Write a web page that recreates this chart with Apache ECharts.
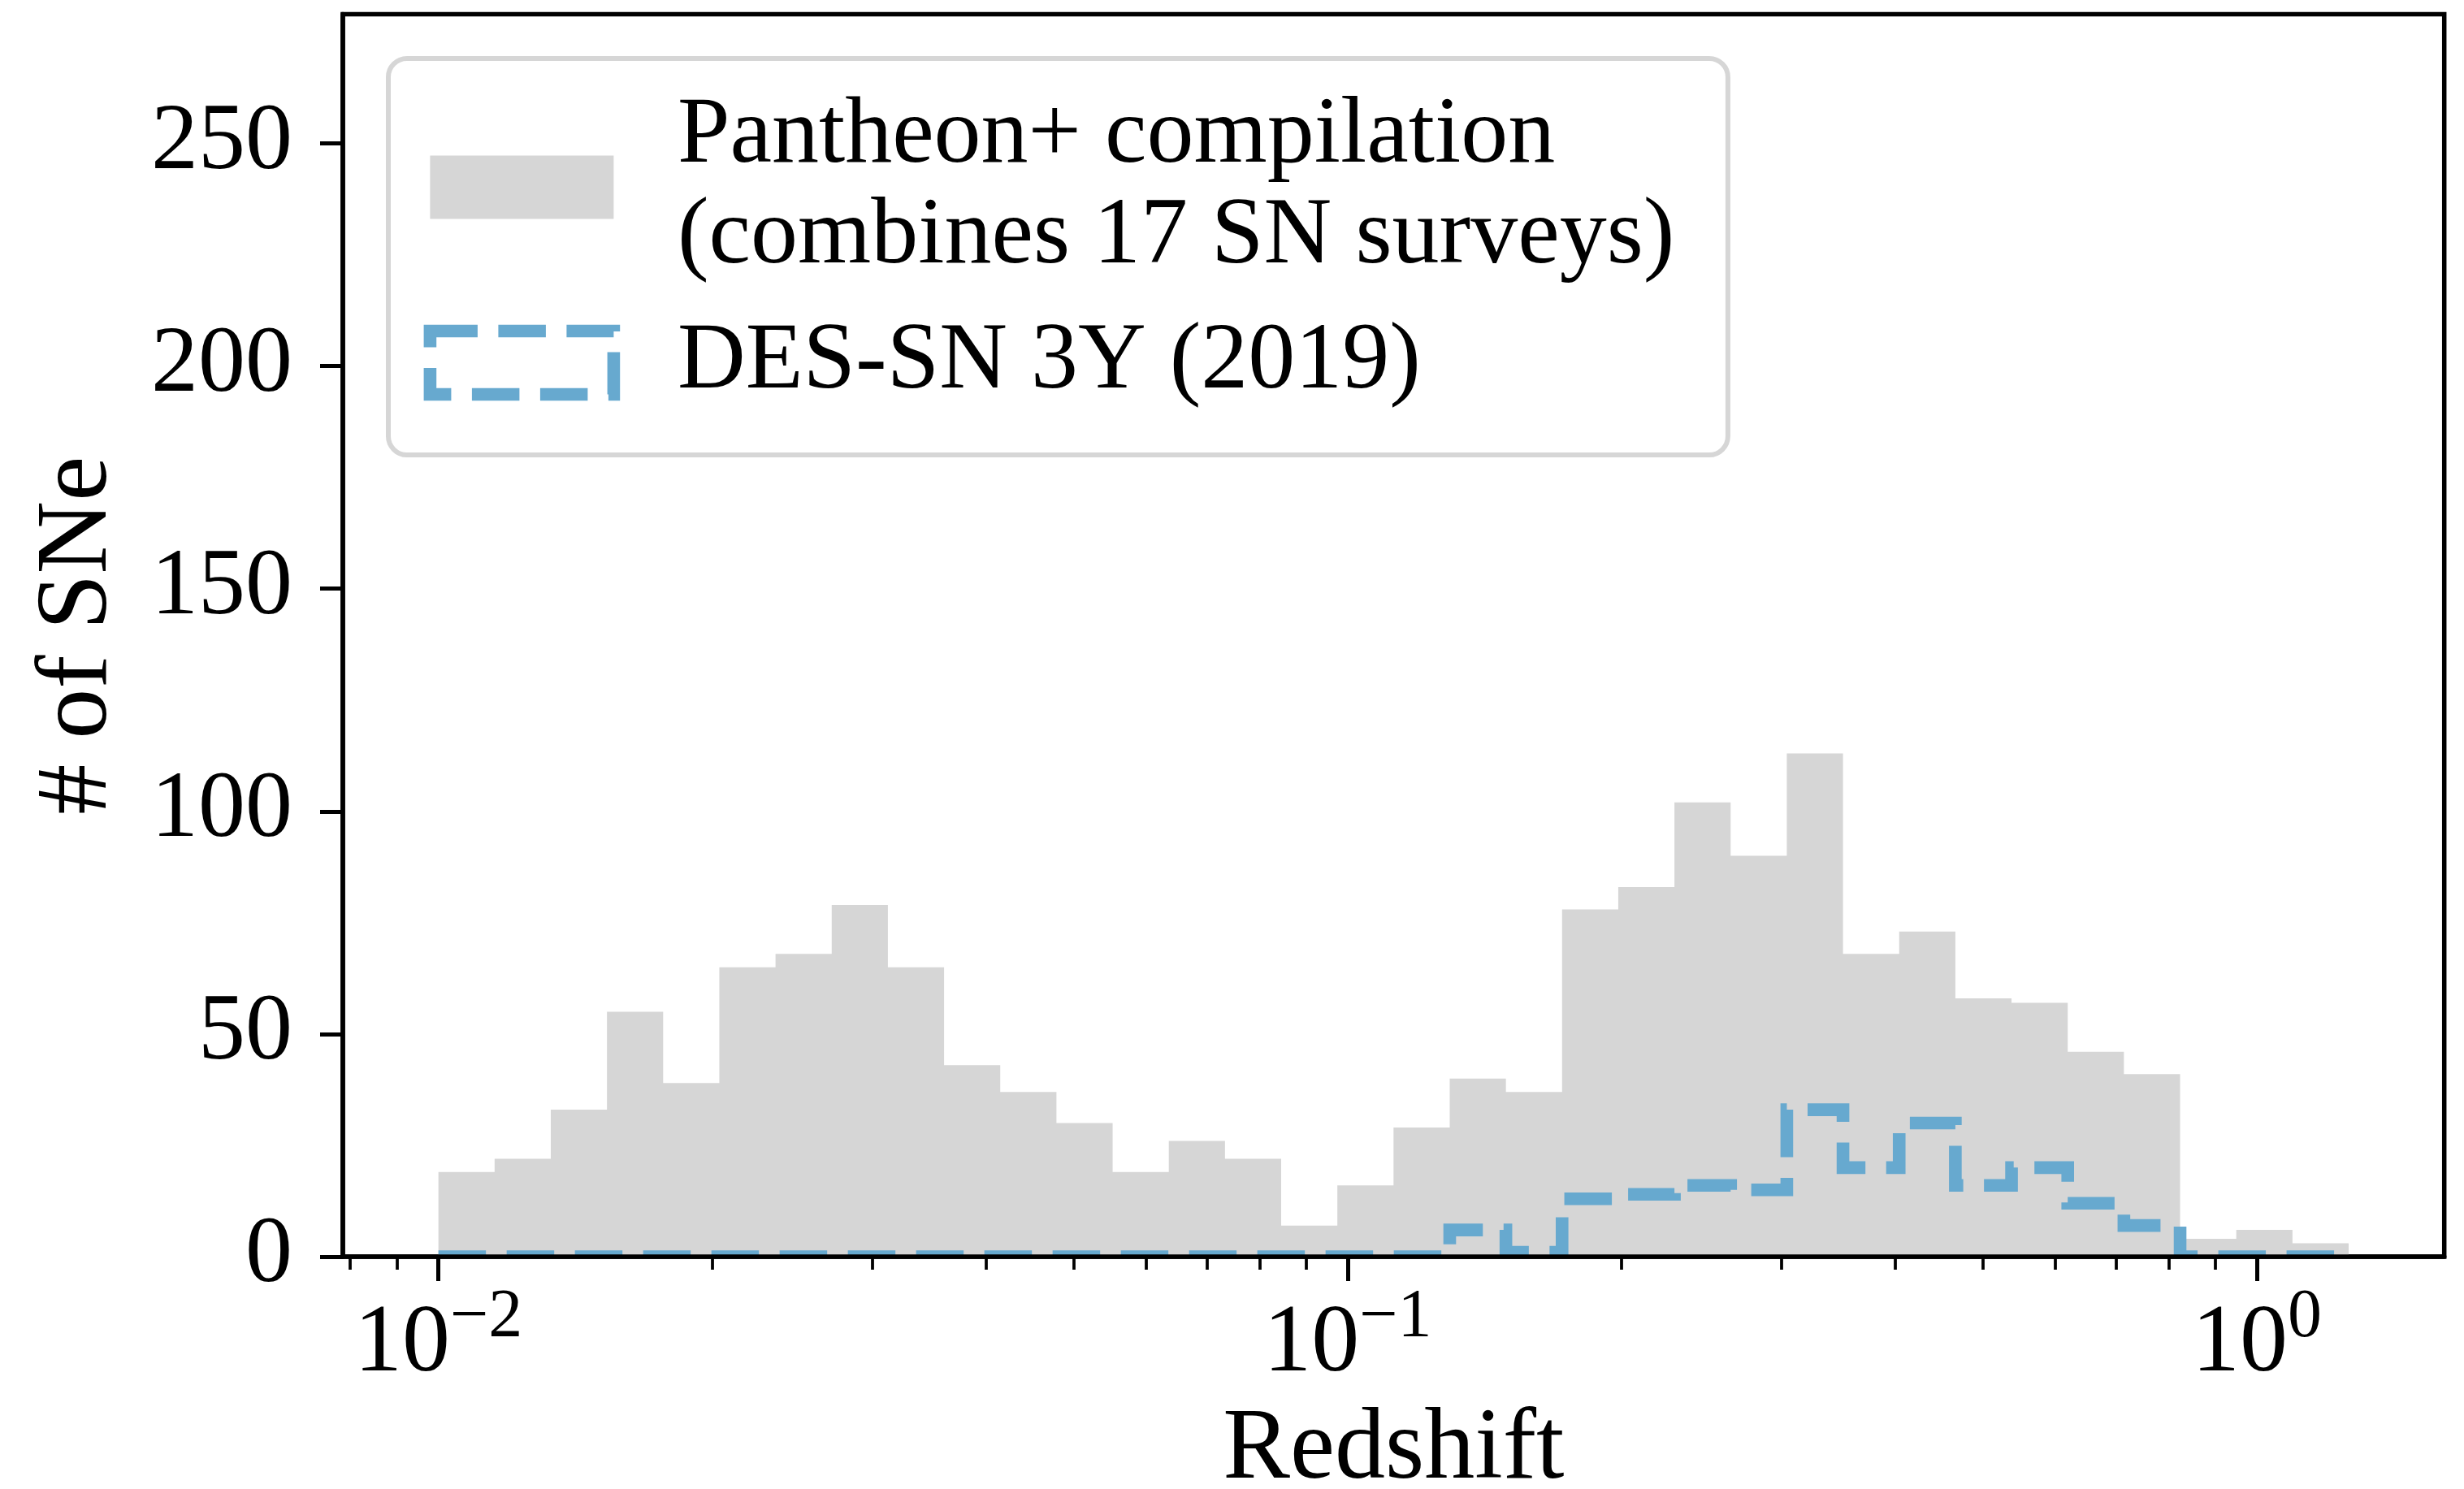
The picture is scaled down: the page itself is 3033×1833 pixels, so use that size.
<!DOCTYPE html>
<html>
<head>
<meta charset="utf-8">
<script src="https://cdn.jsdelivr.net/npm/echarts@6/dist/echarts.min.js"></script>
<style>
  html, body { margin: 0; padding: 0; background: #ffffff; }
  #chart { width: 3033px; height: 1833px; }
</style>
</head>
<body>
<div id="chart"></div>
<script>
// Histogram binning: log-spaced redshift bins
const zLow = 0.01;
const zHigh = 1.2614;
const nBins = 34;
const binEdges = Array.from({ length: nBins + 1 }, (_, i) =>
  Math.pow(10, Math.log10(zLow) + i * (Math.log10(zHigh) - Math.log10(zLow)) / nBins));

// Number of SNe per bin
const pantheonCounts = [19, 22, 33, 55, 39, 65, 68, 79, 65, 43, 37, 30, 19, 26, 22, 7, 16,
                        29, 40, 37, 78, 83, 102, 90, 113, 68, 73, 58, 57, 46, 41, 4, 6, 3];
const desCounts = [0, 0, 0, 0, 0, 0, 0, 0, 0, 0, 0, 0, 0, 0, 0, 0, 0,
                   0, 6, 1, 13, 14, 16, 15, 33, 20, 30, 16, 20, 12, 7, 0, 0, 0];

// Axis ticks
const xMajorTicks = [0.01, 0.1, 1];
const xMinorTicks = [0.008, 0.009, 0.02, 0.03, 0.04, 0.05, 0.06, 0.07, 0.08, 0.09,
                     0.2, 0.3, 0.4, 0.5, 0.6, 0.7, 0.8, 0.9];
const yTicks = [0, 50, 100, 150, 200, 250];
const xRange = [0.00785, 1.607];
const yRange = [0, 279];

const pantheonName = 'Pantheon+ compilation\n(combines 17 SN surveys)';
const desName = 'DES-SN 3Y (2019)';

const FONT = '"Liberation Serif", "Times New Roman", serif';
const GRAY = '#d6d6d6';
const BLUE = '#67a9cf';
const INK = '#000000';

// Outline of a step histogram in pixel space
function stepPoints(counts, api) {
  const raw = [[binEdges[0], 0]];
  counts.forEach((c, i) => {
    raw.push([binEdges[i], c]);
    raw.push([binEdges[i + 1], c]);
  });
  raw.push([binEdges[counts.length], 0]);
  const pts = [];
  raw.forEach(p => {
    const last = pts.length ? pts[pts.length - 1].src : null;
    if (last && last[0] === p[0] && last[1] === p[1]) return;
    pts.push({ src: p, px: api.coord(p) });
  });
  return pts.map(p => p.px);
}

function powerLabel(v) {
  const p = Math.round(Math.log10(v));
  const exp = p < 0 ? '\u2212' + (-p) : String(p);
  return '{m|10}{e|' + exp + '}';
}

const chart = echarts.init(document.getElementById('chart'), null, { renderer: 'canvas' });

chart.setOption({
  animation: false,
  backgroundColor: '#ffffff',
  grid: {
    left: 422, right: 24.3, top: 17.5, bottom: 286,
    show: true, borderColor: INK, borderWidth: 5.5,
    backgroundColor: 'transparent',
    containLabel: false,
    outerBoundsMode: 'none'
  },
  legend: {
    orient: 'vertical',
    left: 478, top: 72,
    itemWidth: 226, itemHeight: 78, itemGap: 17,
    padding: [21.5, 65.5, 51.5, 43.6],
    backgroundColor: 'rgba(255,255,255,0.8)',
    borderColor: '#d6d6d6', borderWidth: 6, borderRadius: 23,
    selectedMode: false,
    textStyle: { fontFamily: FONT, fontSize: 116, lineHeight: 124, color: INK },
    data: [
      {
        name: pantheonName, icon: 'rect',
        itemStyle: { color: GRAY, borderWidth: 0 },
        textStyle: { padding: [0, 0, 26, 73.5] }
      },
      {
        name: desName, icon: 'rect',
        itemStyle: { color: 'rgba(0,0,0,0)', borderColor: BLUE, borderWidth: 15.6, borderType: [58.5, 25.5] },
        textStyle: { padding: [0, 0, 0, 73.5] }
      }
    ]
  },
  xAxis: [
    {
      type: 'log', logBase: 10, min: xRange[0], max: xRange[1],
      position: 'bottom', z: 5,
      axisLine: { show: true, onZero: false, lineStyle: { color: INK, width: 5.5 } },
      axisTick: { show: true, customValues: xMajorTicks, length: 30, lineStyle: { color: INK, width: 5 } },
      minorTick: { show: false },
      splitLine: { show: false },
      axisLabel: {
        show: true, customValues: xMajorTicks, margin: 52,
        formatter: powerLabel,
        rich: {
          m: { fontFamily: FONT, fontSize: 118, lineHeight: 116, color: INK, verticalAlign: 'bottom' },
          e: { fontFamily: FONT, fontSize: 84, lineHeight: 80, padding: [0, 0, 50, 0], color: INK, verticalAlign: 'bottom' }
        }
      },
      name: 'Redshift', nameLocation: 'middle', nameGap: 177, nameMoveOverlap: false,
      nameTextStyle: { fontFamily: FONT, fontSize: 124, color: INK }
    },
    {
      type: 'log', logBase: 10, min: xRange[0], max: xRange[1],
      position: 'bottom', z: 5,
      axisLine: { show: false, onZero: false },
      axisTick: { show: true, customValues: xMinorTicks, length: 16, lineStyle: { color: INK, width: 3.75 } },
      minorTick: { show: false },
      splitLine: { show: false },
      axisLabel: { show: false }
    }
  ],
  yAxis: {
    type: 'value', min: yRange[0], max: yRange[1], z: 5,
    axisLine: { show: true, onZero: false, lineStyle: { color: INK, width: 5.5 } },
    axisTick: { show: true, customValues: yTicks, length: 28, lineStyle: { color: INK, width: 5 } },
    splitLine: { show: false },
    axisLabel: {
      show: true, customValues: yTicks, margin: 62,
      fontFamily: FONT, fontSize: 116, color: INK
    },
    name: '# of SNe', nameLocation: 'middle', nameRotate: 90, nameGap: 263, nameMoveOverlap: false,
    nameTextStyle: { fontFamily: FONT, fontSize: 124, color: INK }
  },
  series: [
    {
      type: 'custom', name: pantheonName, coordinateSystem: 'cartesian2d',
      xAxisIndex: 0, yAxisIndex: 0, silent: true, z: 2,
      data: pantheonCounts.map((c, i) => [binEdges[i], binEdges[i + 1], c]),
      encode: { x: [0, 1], y: 2 },
      itemStyle: { color: GRAY },
      renderItem(params, api) {
        if (params.dataIndex !== 0) return null;
        return {
          type: 'polygon',
          shape: { points: stepPoints(pantheonCounts, api) },
          style: { fill: GRAY, stroke: 'none' }
        };
      }
    },
    {
      type: 'custom', name: desName, coordinateSystem: 'cartesian2d',
      xAxisIndex: 0, yAxisIndex: 0, silent: true, z: 3, clip: true,
      data: desCounts.map((c, i) => [binEdges[i], binEdges[i + 1], c]),
      encode: { x: [0, 1], y: 2 },
      itemStyle: { color: BLUE },
      renderItem(params, api) {
        if (params.dataIndex !== 0) return null;
        return {
          type: 'polyline',
          shape: { points: stepPoints(desCounts, api) },
          style: {
            fill: 'none', stroke: BLUE, lineWidth: 15.6,
            lineDash: [58.5, 25.5], lineCap: 'butt', lineJoin: 'miter'
          }
        };
      }
    }
  ]
});
</script>
</body>
</html>
